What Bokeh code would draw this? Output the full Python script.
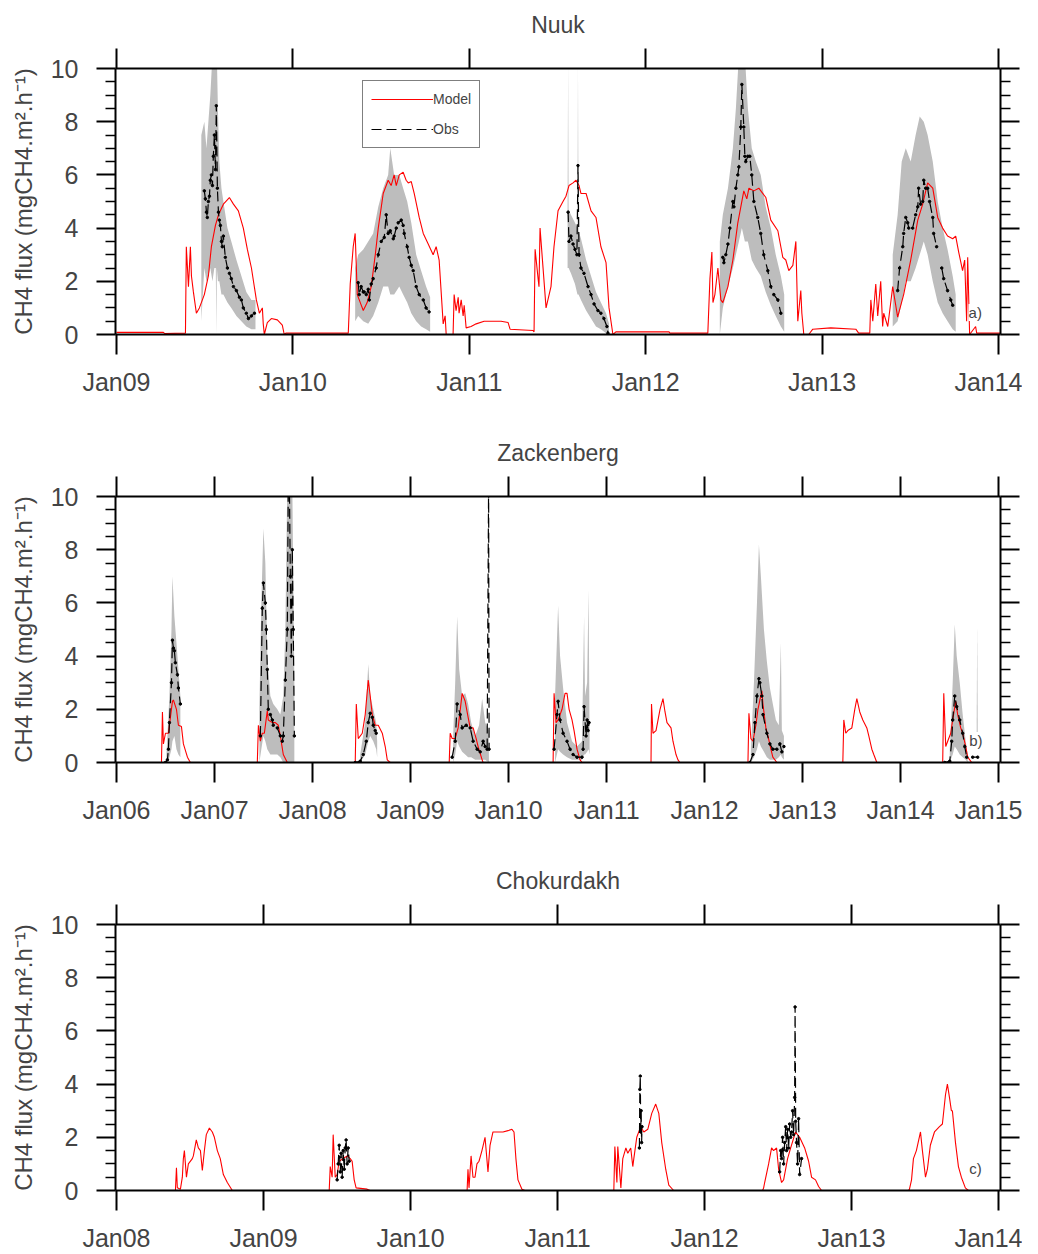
from bokeh.plotting import figure
from bokeh.models import (Range1d, LinearAxis, FixedTicker, Legend, LegendItem, Label)
from bokeh.layouts import column
from bokeh.embed import file_html
from bokeh.resources import INLINE

NAN = float("nan")

# ---------------- data (decimal year, CH4 flux) ----------------
nuuk_ticks = [2009, 2010, 2011, 2012, 2013, 2014]
nuuk_labels = ["Jan09", "Jan10", "Jan11", "Jan12", "Jan13", "Jan14"]
nuuk_model = [
    (2009.000,0.08),(2009.266,0.08),(2009.272,0.04),(2009.391,0.05),(2009.396,3.3),(2009.408,1.8),(2009.419,3.3),(2009.425,2.2),(2009.436,1.6),(2009.453,0.8),(2009.470,1.0),(2009.498,1.5),(2009.521,2.2),(2009.538,3.3),(2009.561,4.1),(2009.578,4.5),(2009.606,4.9),(2009.640,5.15),(2009.663,4.9),(2009.691,4.65),(2009.719,4.0),(2009.742,3.2),(2009.765,2.5),(2009.793,1.3),(2009.810,0.8),(2009.827,1.0),(2009.832,0.4),(2009.838,0.0),(2009.855,0.45),(2009.878,0.6),(2009.912,0.55),(2009.940,0.35),(2009.951,0.0),(2009.960,0.05),
    (2010.314,0.05),(2010.325,1.9),(2010.342,3.3),(2010.353,3.8),(2010.365,1.5),(2010.382,1.2),(2010.399,0.9),(2010.421,1.2),(2010.444,1.8),(2010.467,3.0),(2010.484,4.0),(2010.512,5.3),(2010.540,5.8),(2010.557,5.6),(2010.574,6.0),(2010.586,5.6),(2010.603,6.0),(2010.625,6.1),(2010.642,5.8),(2010.654,5.7),(2010.671,5.75),(2010.688,5.3),(2010.716,4.4),(2010.739,3.8),(2010.767,3.4),(2010.795,3.0),(2010.812,3.3),(2010.829,2.8),(2010.852,0.4),(2010.863,0.7),(2010.869,0.0),(2010.908,0.0),(2010.914,1.5),(2010.925,0.9),(2010.937,1.4),(2010.942,0.8),(2010.954,1.3),(2010.965,0.7),(2010.971,1.1),(2010.982,0.25),(2011.010,0.3),(2011.039,0.4),(2011.084,0.5),(2011.180,0.5),(2011.220,0.45),(2011.231,0.2),(2011.361,0.15),(2011.367,0.1),
    (2011.373,3.2),(2011.390,2.1),(2011.395,1.8),(2011.401,4.0),(2011.418,2.5),(2011.435,1.0),(2011.463,1.8),(2011.480,3.3),(2011.503,4.65),(2011.531,5.0),(2011.548,5.2),(2011.565,5.6),(2011.588,5.7),(2011.605,5.8),(2011.622,5.6),(2011.633,5.3),(2011.662,5.3),(2011.690,4.65),(2011.718,4.4),(2011.746,3.3),(2011.775,2.7),(2011.792,1.0),(2011.814,0.0),(2011.831,0.1),(2012.132,0.1),(2012.137,0.05),(2012.352,0.05),
    (2012.364,2.1),(2012.375,3.1),(2012.381,1.2),(2012.392,1.5),(2012.409,2.5),(2012.426,1.3),(2012.437,1.2),(2012.466,1.8),(2012.494,2.8),(2012.522,4.2),(2012.556,5.4),(2012.573,5.1),(2012.585,5.5),(2012.613,5.4),(2012.641,5.5),(2012.681,5.15),(2012.709,4.3),(2012.749,3.9),(2012.777,2.9),(2012.794,2.8),(2012.811,2.4),(2012.834,2.6),(2012.851,3.5),(2012.862,0.5),(2012.879,1.65),(2012.885,0.8),(2012.896,0.0),(2012.924,0.0),(2012.947,0.2),(2013.049,0.25),(2013.191,0.2),(2013.207,0.05),(2013.270,0.05),
    (2013.276,1.3),(2013.287,0.5),(2013.304,1.9),(2013.315,0.7),(2013.332,2.0),(2013.343,0.3),(2013.349,0.8),(2013.372,0.3),(2013.400,1.8),(2013.428,0.65),(2013.462,1.5),(2013.502,2.8),(2013.542,4.3),(2013.570,4.9),(2013.598,5.7),(2013.627,5.5),(2013.655,4.4),(2013.683,4.0),(2013.711,3.7),(2013.740,3.6),(2013.757,3.7),(2013.774,3.1),(2013.796,2.4),(2013.808,2.8),(2013.819,0.5),(2013.825,2.9),(2013.836,0.0),(2013.870,0.3),(2013.876,0.05),(2014.011,0.05),
]
nuuk_obs = [
    (2009.498,5.4),(2009.504,5.1),(2009.510,4.6),(2009.515,4.4),(2009.521,5.0),(2009.527,5.2),(2009.532,5.8),(2009.538,6.0),(2009.544,5.6),(2009.549,6.7),(2009.555,7.5),(2009.561,6.2),(2009.566,8.6),(2009.572,5.5),(2009.578,4.6),(2009.583,4.3),(2009.589,4.1),(2009.595,3.5),(2009.600,3.3),(2009.606,3.7),(2009.617,2.9),(2009.629,2.5),(2009.640,2.3),(2009.651,2.1),(2009.663,1.8),(2009.680,1.65),(2009.697,1.4),(2009.708,1.3),(2009.719,1.0),(2009.736,0.8),(2009.748,0.6),(2009.765,0.7),(2009.782,0.8), None,
    (2010.370,1.95),(2010.376,1.5),(2010.387,1.8),(2010.399,1.6),(2010.404,1.6),(2010.416,1.5),(2010.427,1.7),(2010.433,1.3),(2010.444,1.9),(2010.455,2.1),(2010.472,2.5),(2010.484,3.0),(2010.501,3.5),(2010.518,3.65),(2010.529,4.5),(2010.540,3.8),(2010.552,3.9),(2010.569,3.6),(2010.574,3.7),(2010.586,4.0),(2010.597,4.2),(2010.614,4.3),(2010.625,4.1),(2010.631,3.8),(2010.648,3.3),(2010.659,2.9),(2010.671,2.6),(2010.682,2.4),(2010.699,1.8),(2010.716,1.5),(2010.739,1.3),(2010.755,1.0),(2010.772,0.85), None,
    (2011.560,4.6),(2011.565,3.5),(2011.576,3.7),(2011.588,3.4),(2011.599,3.2),(2011.610,3.0),(2011.616,6.35),(2011.622,3.0),(2011.633,2.5),(2011.650,2.3),(2011.673,1.8),(2011.690,1.5),(2011.707,1.15),(2011.729,0.9),(2011.746,0.8),(2011.763,0.6),(2011.780,0.3),(2011.786,0.05), None,
    (2012.437,2.9),(2012.443,2.7),(2012.454,3.0),(2012.466,3.4),(2012.477,4.0),(2012.494,5.0),(2012.500,4.8),(2012.511,5.5),(2012.522,6.0),(2012.528,6.3),(2012.539,7.8),(2012.545,9.4),(2012.556,7.8),(2012.562,6.7),(2012.567,6.5),(2012.579,6.7),(2012.590,6.7),(2012.601,6.0),(2012.613,5.0),(2012.635,4.4),(2012.652,3.8),(2012.669,3.0),(2012.692,2.4),(2012.709,1.8),(2012.726,1.5),(2012.749,1.3),(2012.766,0.8), None,
    (2013.428,1.65),(2013.439,2.5),(2013.457,3.3),(2013.462,3.8),(2013.474,4.4),(2013.485,4.2),(2013.491,4.0),(2013.513,4.0),(2013.530,4.5),(2013.542,4.8),(2013.547,5.5),(2013.558,4.9),(2013.570,5.0),(2013.576,5.8),(2013.587,5.5),(2013.598,5.5),(2013.609,5.0),(2013.627,4.4),(2013.632,3.8),(2013.649,3.3), None,
    (2013.678,2.5),(2013.689,2.1),(2013.711,1.65),(2013.729,1.3),(2013.740,1.1),
]
nuuk_band = [  # (time, lower, upper)
    (2009.481,0.5,7.5),(2009.498,2.5,8.0),(2009.510,2.0,7.0),(2009.521,2.2,8.0),(2009.532,2.5,9.0),(2009.544,2.0,10.5),(2009.555,2.5,10.5),(2009.563,2.5,10.5),(2009.566,0.0,10.5),(2009.569,2.5,10.5),(2009.575,2.0,8.5),(2009.583,2.0,6.5),(2009.595,1.5,5.5),(2009.606,1.5,5.0),(2009.629,1.2,4.0),(2009.651,1.0,3.5),(2009.680,0.7,2.8),(2009.708,0.5,2.2),(2009.736,0.3,1.6),(2009.765,0.2,1.3),(2009.788,0.2,1.3), None,
    (2010.353,0.5,2.5),(2010.370,0.7,3.0),(2010.399,0.5,3.2),(2010.427,0.4,3.5),(2010.455,0.7,3.8),(2010.484,1.2,4.8),(2010.512,1.8,5.5),(2010.540,1.8,6.0),(2010.552,1.5,7.0),(2010.574,1.5,6.0),(2010.603,1.8,6.0),(2010.625,1.5,5.5),(2010.648,1.2,5.0),(2010.671,0.8,4.2),(2010.699,0.5,3.0),(2010.727,0.3,2.4),(2010.755,0.2,1.8),(2010.778,0.1,1.4), None,
    (2011.557,2.5,4.8),(2011.560,2.5,10.2),(2011.563,2.5,4.7),(2011.576,2.3,4.5),(2011.599,1.9,4.2),(2011.613,1.5,4.0),(2011.616,1.5,10.2),(2011.619,1.5,3.9),(2011.633,1.3,3.6),(2011.662,0.9,2.8),(2011.690,0.6,2.2),(2011.718,0.3,1.6),(2011.746,0.2,1.2),(2011.775,0.05,0.8),(2011.792,0.0,0.4), None,
    (2012.420,0.0,3.5),(2012.437,1.0,4.5),(2012.466,1.8,5.5),(2012.494,2.5,7.0),(2012.511,3.0,8.5),(2012.528,3.5,10.5),(2012.545,4.0,10.5),(2012.562,3.5,10.5),(2012.579,3.5,8.5),(2012.601,2.8,7.0),(2012.624,2.5,6.5),(2012.652,2.2,6.0),(2012.680,1.6,4.8),(2012.709,1.1,4.0),(2012.737,0.7,3.0),(2012.766,0.3,2.2),(2012.785,0.1,1.5), None,
    (2013.400,0.3,3.0),(2013.428,0.5,4.5),(2013.451,1.2,6.5),(2013.474,2.0,7.0),(2013.502,2.0,6.5),(2013.530,2.5,7.5),(2013.553,3.0,8.2),(2013.576,3.5,8.0),(2013.598,3.0,7.5),(2013.627,2.0,6.5),(2013.655,1.2,5.0),(2013.683,0.8,4.0),(2013.711,0.5,3.2),(2013.740,0.2,2.2),(2013.757,0.1,1.5),
]

zack_ticks = [2006, 2007, 2008, 2009, 2010, 2011, 2012, 2013, 2014, 2015]
zack_labels = ["Jan06", "Jan07", "Jan08", "Jan09", "Jan10", "Jan11", "Jan12", "Jan13", "Jan14", "Jan15"]
zack_model = [
    (2005.99,0.0),(2006.459,0.0),(2006.469,1.9),(2006.479,0.7),(2006.500,1.1),(2006.530,1.1),(2006.571,2.3),(2006.581,2.35),(2006.612,2.0),(2006.632,1.4),(2006.663,1.35),(2006.683,0.7),(2006.724,0.2),(2006.754,0.0),
    (2007.437,0.0),(2007.448,1.4),(2007.468,0.8),(2007.488,1.1),(2007.509,1.1),(2007.539,1.95),(2007.549,1.6),(2007.590,1.5),(2007.621,1.5),(2007.651,1.4),(2007.672,1.0),(2007.702,0.3),(2007.743,0.0),
    (2008.436,0.0),(2008.447,2.2),(2008.467,0.9),(2008.508,1.1),(2008.538,1.8),(2008.569,3.1),(2008.589,2.5),(2008.610,1.8),(2008.640,1.4),(2008.671,1.4),(2008.712,1.1),(2008.742,0.6),(2008.763,0.1),(2008.793,0.0),
    (2009.395,0.0),(2009.405,1.1),(2009.425,0.9),(2009.456,0.9),(2009.486,1.3),(2009.527,2.6),(2009.558,2.3),(2009.588,1.7),(2009.609,1.3),(2009.639,1.3),(2009.670,0.9),(2009.690,0.6),(2009.731,0.1),(2009.741,0.0),
    (2010.455,0.0),(2010.465,2.6),(2010.485,1.5),(2010.506,1.6),(2010.546,2.0),(2010.577,2.6),(2010.597,2.6),(2010.618,2.0),(2010.648,1.6),(2010.669,1.2),(2010.699,0.5),(2010.730,0.1),(2010.750,0.0),
    (2011.454,0.0),(2011.459,2.2),(2011.474,1.1),(2011.505,1.2),(2011.546,2.0),(2011.576,2.4),(2011.597,1.9),(2011.617,1.5),(2011.658,1.3),(2011.678,0.8),(2011.709,0.3),(2011.729,0.1),(2011.749,0.0),
    (2012.443,0.0),(2012.453,1.85),(2012.473,0.9),(2012.494,0.8),(2012.524,1.4),(2012.545,2.0),(2012.585,2.7),(2012.596,2.2),(2012.626,1.3),(2012.647,1.0),(2012.677,0.5),(2012.697,0.2),(2012.738,0.0),
    (2013.411,0.0),(2013.421,1.6),(2013.441,1.1),(2013.462,1.2),(2013.503,1.3),(2013.533,2.0),(2013.554,2.4),(2013.584,1.9),(2013.615,1.6),(2013.656,1.3),(2013.676,1.0),(2013.707,0.5),(2013.727,0.3),(2013.758,0.0),
    (2014.430,0.0),(2014.441,2.6),(2014.461,0.6),(2014.481,0.8),(2014.512,1.1),(2014.532,1.6),(2014.563,2.3),(2014.583,1.8),(2014.614,1.3),(2014.634,1.1),(2014.665,0.6),(2014.685,0.2),(2014.726,0.0),(2015.01,0.0),
]
zack_obs = [
    (2006.500,0.0),(2006.520,0.1),(2006.530,0.5),(2006.540,1.5),(2006.561,3.0),(2006.571,4.6),(2006.581,4.3),(2006.591,4.2),(2006.601,3.75),(2006.622,3.3),(2006.632,2.8),(2006.652,2.2), None,
    (2007.468,1.0),(2007.488,5.8),(2007.499,6.75),(2007.519,6.0),(2007.529,5.0),(2007.539,3.5),(2007.549,2.0),(2007.570,1.8),(2007.590,1.6),(2007.600,1.4),(2007.641,1.3),(2007.672,1.0),(2007.692,0.8),(2007.702,1.0),(2007.723,3.1),(2007.743,5.0),(2007.753,10.5),(2007.764,10.5),(2007.774,7.0),(2007.784,4.0),(2007.794,8.0),(2007.804,5.0),(2007.815,1.0), None,
    (2008.436,0.0),(2008.487,0.05),(2008.518,0.3),(2008.549,0.8),(2008.569,1.5),(2008.589,1.85),(2008.610,1.7),(2008.620,1.4),(2008.640,1.2),(2008.650,1.1), None,
    (2009.425,0.2),(2009.456,0.8),(2009.476,2.2),(2009.507,1.8),(2009.527,1.3),(2009.568,1.4),(2009.609,1.3),(2009.639,0.8),(2009.680,0.5),(2009.711,0.4),(2009.741,0.8),(2009.762,0.6),(2009.782,0.5),(2009.797,10.5),(2009.802,0.5), None,
    (2010.465,0.5),(2010.495,1.8),(2010.506,2.3),(2010.526,1.6),(2010.557,1.1),(2010.597,0.8),(2010.628,0.5),(2010.659,0.3),(2010.699,0.2),(2010.750,0.2),(2010.761,0.5),(2010.771,2.1),(2010.791,1.0),(2010.802,1.6),(2010.812,1.2),(2010.822,1.5), None,
    (2012.463,0.0),(2012.494,0.3),(2012.514,1.5),(2012.535,2.5),(2012.555,3.15),(2012.565,3.0),(2012.585,2.5),(2012.596,1.8),(2012.636,1.1),(2012.667,0.7),(2012.697,0.5),(2012.738,0.5),(2012.769,0.7),(2012.789,0.4),(2012.810,0.6), None,
    (2014.451,0.0),(2014.502,0.05),(2014.522,0.8),(2014.532,1.6),(2014.553,2.5),(2014.573,2.1),(2014.604,1.6),(2014.634,1.1),(2014.655,0.6),(2014.675,0.2), None,
    (2014.736,0.2),(2014.787,0.2),
]
zack_band = [
    (2006.510,0.0,0.3),(2006.540,0.2,2.5),(2006.561,0.5,5.0),(2006.571,0.8,7.0),(2006.591,1.0,5.5),(2006.612,0.5,4.5),(2006.632,0.3,3.5),(2006.652,0.2,2.5), None,
    (2007.458,0.0,2.0),(2007.478,0.5,6.0),(2007.499,1.0,8.8),(2007.519,0.8,7.5),(2007.539,0.5,4.0),(2007.570,0.3,2.5),(2007.600,0.3,2.2),(2007.641,0.3,2.0),(2007.672,0.2,1.8),(2007.702,0.0,2.5),(2007.723,0.0,5.0),(2007.743,0.0,10.5),(2007.794,0.0,10.5),(2007.815,0.0,3.0), None,
    (2008.487,0.0,0.3),(2008.538,0.3,1.5),(2008.569,0.8,3.7),(2008.589,1.0,2.5),(2008.620,0.8,2.0),(2008.650,0.5,1.5),(2008.660,0.2,0.8), None,
    (2009.435,0.0,1.0),(2009.456,0.3,3.0),(2009.476,0.8,5.5),(2009.497,0.6,3.5),(2009.527,0.4,2.5),(2009.558,0.3,2.6),(2009.588,0.2,2.2),(2009.619,0.2,1.5),(2009.660,0.1,1.0),(2009.700,0.1,1.4),(2009.731,0.1,2.4),(2009.762,0.1,1.5),(2009.800,0.0,1.2), None,
    (2010.475,0.0,2.5),(2010.506,0.5,5.9),(2010.526,0.4,4.0),(2010.557,0.3,2.8),(2010.597,0.2,1.5),(2010.648,0.1,0.8),(2010.699,0.1,0.6),(2010.750,0.1,0.8),(2010.771,0.3,5.5),(2010.781,0.3,2.5),(2010.802,0.4,3.0),(2010.817,0.5,6.5),(2010.827,0.3,1.0), None,
    (2012.473,0.0,0.5),(2012.504,0.2,3.0),(2012.535,0.5,6.0),(2012.555,0.8,8.2),(2012.575,0.6,7.0),(2012.606,0.4,5.0),(2012.636,0.2,3.8),(2012.667,0.1,2.8),(2012.697,0.1,2.2),(2012.728,0.1,1.6),(2012.758,0.2,1.4),(2012.779,0.3,4.5),(2012.789,0.2,1.2),(2012.810,0.1,1.0), None,
    (2014.502,0.0,0.5),(2014.532,0.3,3.0),(2014.553,0.6,5.2),(2014.573,0.5,4.0),(2014.604,0.3,3.0),(2014.634,0.2,1.8),(2014.665,0.1,0.8),(2014.685,0.0,0.3), None,
    (2014.777,1.0,1.5),(2014.782,1.0,5.2),(2014.787,1.0,1.5),
]

chok_ticks = [2008, 2009, 2010, 2011, 2012, 2013, 2014]
chok_labels = ["Jan08", "Jan09", "Jan10", "Jan11", "Jan12", "Jan13", "Jan14"]
chok_model = [
    (2007.993,0.0),(2008.401,0.0),(2008.408,0.85),(2008.414,0.1),(2008.435,0.05),(2008.448,0.5),(2008.455,1.2),(2008.462,1.5),(2008.476,0.5),(2008.489,1.0),(2008.516,1.2),(2008.523,1.3),(2008.543,1.9),(2008.557,1.6),(2008.571,1.5),(2008.584,0.75),(2008.598,1.5),(2008.611,2.1),(2008.632,2.35),(2008.652,2.2),(2008.666,2.0),(2008.686,1.5),(2008.706,1.2),(2008.727,0.6),(2008.754,0.3),(2008.788,0.0),
    (2009.447,0.0),(2009.454,0.9),(2009.467,0.5),(2009.474,2.1),(2009.488,0.5),(2009.501,0.6),(2009.515,1.1),(2009.542,1.2),(2009.569,1.3),(2009.590,1.2),(2009.603,1.1),(2009.617,0.4),(2009.630,0.1),(2009.705,0.05),(2009.725,0.0),
    (2010.385,0.0),(2010.391,0.8),(2010.398,0.1),(2010.412,1.3),(2010.425,0.5),(2010.439,0.5),(2010.452,1.0),(2010.466,1.1),(2010.486,1.5),(2010.507,2.0),(2010.527,0.7),(2010.541,1.7),(2010.561,2.2),(2010.588,2.2),(2010.629,2.2),(2010.663,2.25),(2010.690,2.3),(2010.704,2.2),(2010.717,1.2),(2010.731,0.4),(2010.758,0.05),(2010.778,0.0),
    (2011.383,0.0),(2011.390,1.65),(2011.404,0.3),(2011.410,1.65),(2011.431,0.1),(2011.444,1.2),(2011.465,1.6),(2011.478,1.4),(2011.498,1.6),(2011.512,0.9),(2011.519,1.2),(2011.539,2.0),(2011.566,2.4),(2011.587,2.2),(2011.614,2.3),(2011.641,2.9),(2011.668,3.25),(2011.689,2.9),(2011.709,1.8),(2011.736,0.8),(2011.757,0.2),(2011.790,0.0),
    (2012.395,0.0),(2012.402,0.1),(2012.409,0.3),(2012.436,1.0),(2012.456,1.6),(2012.470,1.5),(2012.490,1.6),(2012.504,0.8),(2012.524,0.3),(2012.538,0.4),(2012.565,1.2),(2012.586,1.6),(2012.619,2.2),(2012.647,2.0),(2012.681,1.6),(2012.708,1.1),(2012.728,0.5),(2012.755,0.4),(2012.776,0.15),(2012.796,0.0),
    (2013.387,0.0),(2013.394,0.05),(2013.408,0.4),(2013.421,1.2),(2013.441,1.5),(2013.469,2.2),(2013.482,1.5),(2013.503,0.5),(2013.516,0.8),(2013.536,1.7),(2013.564,2.2),(2013.598,2.4),(2013.618,2.5),(2013.639,3.6),(2013.652,4.0),(2013.666,3.5),(2013.679,3.0),(2013.686,3.0),(2013.707,1.8),(2013.727,0.9),(2013.747,0.5),(2013.774,0.1),(2013.795,0.0),(2014.005,0.0),
]
chok_obs = [
    (2009.501,0.4),(2009.508,1.0),(2009.515,1.7),(2009.522,0.7),(2009.528,1.4),(2009.535,0.5),(2009.542,1.5),(2009.549,0.8),(2009.556,1.6),(2009.562,1.9),(2009.569,1.0),(2009.576,1.6),(2009.583,1.1), None,
    (2011.557,1.6),(2011.560,3.8),(2011.563,4.3),(2011.566,2.2),(2011.569,3.0),(2011.572,1.8),(2011.575,2.4), None,
    (2012.511,0.7),(2012.518,1.5),(2012.524,1.2),(2012.531,2.0),(2012.538,1.0),(2012.545,1.8),(2012.552,2.4),(2012.558,1.5),(2012.565,2.3),(2012.572,1.6),(2012.579,2.5),(2012.586,2.0),(2012.592,2.2),(2012.599,3.0),(2012.606,2.1),(2012.613,3.5),(2012.616,6.9),(2012.620,2.6),(2012.626,1.8),(2012.633,1.0),(2012.640,2.7),(2012.647,0.6),(2012.660,1.2),
]
chok_band = []

y_major = [0, 2, 4, 6, 8, 10]
y_minor = [0.5, 1, 1.5, 2.5, 3, 3.5, 4.5, 5, 5.5, 6.5, 7, 7.5, 8.5, 9, 9.5]

FONT = "Liberation Sans"
YLABEL = "CH4 flux (mgCH4.m\u00b2.h\u207b\u00b9)"


def unzip_pts(pts):
    t, v = [], []
    for p in pts:
        if p is None:
            t.append(NAN); v.append(NAN)
        else:
            t.append(p[0]); v.append(p[1])
    return t, v


def band_segments(pts):
    segs, cur = [], []
    for p in pts:
        if p is None:
            if cur:
                segs.append(cur)
            cur = []
        else:
            cur.append(p)
    if cur:
        segs.append(cur)
    return segs


def style_x(ax, ticks, labels, show):
    ax.ticker = FixedTicker(ticks=ticks)
    ax.major_label_overrides = {t: l for t, l in zip(ticks, labels)}
    ax.major_tick_out = 20
    ax.major_tick_in = 0
    ax.minor_tick_line_color = None
    ax.axis_line_width = 2
    ax.major_tick_line_width = 2
    ax.major_label_text_font = FONT
    if show:
        ax.major_label_text_font_size = "25px"
        ax.major_label_standoff = 13
    else:
        ax.major_label_text_font_size = "1px"
        ax.major_label_text_color = None
        ax.major_label_standoff = 0


def style_y(ax, show):
    ax.ticker = FixedTicker(ticks=y_major, minor_ticks=y_minor)
    ax.major_tick_out = 19
    ax.major_tick_in = 0
    ax.minor_tick_out = 10
    ax.minor_tick_in = 0
    ax.axis_line_width = 2
    ax.major_tick_line_width = 2
    ax.minor_tick_line_width = 1.5
    ax.major_label_text_font = FONT
    if show:
        ax.major_label_text_font_size = "25px"
        ax.major_label_standoff = 18
        ax.axis_label = YLABEL
        ax.axis_label_text_font = FONT
        ax.axis_label_text_font_size = "24px"
        ax.axis_label_text_font_style = "normal"
        ax.axis_label_standoff = 11
    else:
        ax.major_label_text_font_size = "1px"
        ax.major_label_text_color = None
        ax.major_label_standoff = 0


def make_panel(title, ticks, labels, model, obs, band, tag, tag_x, border_top, border_bottom, legend=False):
    x0 = ticks[0] - (ticks[-1] - ticks[0]) * 0.0011
    x1 = ticks[-1] + (ticks[-1] - ticks[0]) * 0.0022
    p = figure(frame_width=885, frame_height=266, title=None,
               x_range=Range1d(x0, x1), y_range=Range1d(0, 10),
               output_backend="svg", toolbar_location=None,
               min_border_left=115, min_border_right=22,
               min_border_top=border_top, min_border_bottom=border_bottom)
    p.xgrid.visible = False
    p.ygrid.visible = False
    p.outline_line_color = None
    p.background_fill_color = "white"
    p.border_fill_color = "white"

    style_x(p.xaxis[0], ticks, labels, True)
    style_y(p.yaxis[0], True)
    top = LinearAxis()
    style_x(top, ticks, labels, False)
    # panel title drawn as the label of the top axis
    top.axis_label = title
    top.axis_label_text_font = FONT
    top.axis_label_text_font_size = "23px"
    top.axis_label_text_font_style = "normal"
    top.axis_label_standoff = 11
    p.add_layout(top, "above")
    right = LinearAxis()
    style_y(right, False)
    p.add_layout(right, "right")

    for seg in band_segments(band):
        p.varea(x=[s[0] for s in seg], y1=[s[1] for s in seg], y2=[s[2] for s in seg],
                fill_color="#bdbdbd", fill_alpha=1.0)

    mt, mv = unzip_pts(model)
    r_model = p.line(mt, mv, line_color="#ff0000", line_width=1.1)
    ot, ov = unzip_pts(obs)
    r_obs = p.line(ot, ov, line_color="black", line_width=1.2, line_dash="10 5")
    p.scatter(ot, ov, size=2.5, color="black")

    lab = Label(x=tag_x, y=0.83, text=tag, text_font=FONT, text_font_size="15px",
                text_baseline="middle", text_align="left",
                background_fill_color="white", background_fill_alpha=1.0)
    p.add_layout(lab)

    if legend:
        lg = Legend(items=[LegendItem(label="Model", renderers=[r_model]),
                           LegendItem(label="Obs", renderers=[r_obs])],
                    location=(247, 186))
        lg.border_line_color = "black"
        lg.border_line_width = 1
        lg.label_text_font = FONT
        lg.label_text_font_size = "14px"
        lg.glyph_width = 62
        lg.glyph_height = 20
        lg.label_height = 20
        lg.label_standoff = 0
        lg.padding = 8
        lg.spacing = 10
        lg.margin = 0
        lg.background_fill_alpha = 1.0
        p.add_layout(lg)
    return p


p1 = make_panel("Nuuk", nuuk_ticks, nuuk_labels, nuuk_model, nuuk_obs, nuuk_band,
                "a)", 2013.83, 68, 102, legend=True)
p2 = make_panel("Zackenberg", zack_ticks, zack_labels, zack_model, zack_obs, zack_band,
                "b)", 2014.70, 60, 102)
p3 = make_panel("Chokurdakh", chok_ticks, chok_labels, chok_model, chok_obs, chok_band,
                "c)", 2013.80, 60, 62)

layout = column(p1, p2, p3, spacing=0)
open("out.html", "w").write(file_html(layout, INLINE))
